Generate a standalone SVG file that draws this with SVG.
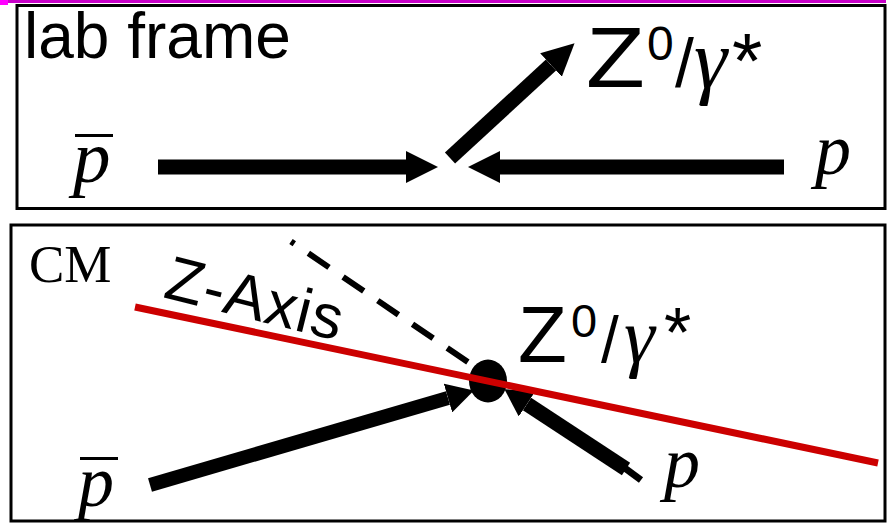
<svg xmlns="http://www.w3.org/2000/svg" width="890" height="523" viewBox="0 0 890 523">
<style>
.frame{fill:#fff;stroke:#000;stroke-width:3}
.sans{font-family:"Liberation Sans",Arial,sans-serif;fill:#000}
.serif{font-family:"Liberation Serif","Times New Roman",serif;fill:#000}
.it{font-style:italic}
.arrow{stroke:#000;stroke-linecap:butt;fill:none}
.bar{stroke:#000;stroke-width:3}
</style>
<defs>
<marker id="headL" markerUnits="userSpaceOnUse" markerWidth="32" markerHeight="32" refX="0" refY="16" orient="auto" viewBox="0 0 32 32">
<path d="M0,0 L32,16 L0,32 Z" fill="#000"/>
</marker>
<marker id="headS" markerUnits="userSpaceOnUse" markerWidth="27" markerHeight="30" refX="0" refY="15" orient="auto" viewBox="0 0 27 30">
<path d="M0,0 L27,15 L0,30 Z" fill="#000"/>
</marker>
</defs>
<rect width="890" height="523" fill="#fff"/>
<rect x="0" y="0" width="886" height="3" fill="#c800c8"/>
<rect x="0" y="0" width="8" height="5" fill="#ff00ff"/>

<g id="lab-frame">
<rect class="frame" x="17" y="5.5" width="868" height="203"/>
<text class="sans" x="24" y="58" font-size="64">lab frame</text>
</g>
<g id="lab-pbar">
<text class="serif it" x="73" y="182" font-size="75">p</text>
<line class="bar" x1="75" y1="135.5" x2="113" y2="135.5"/>
</g>
<g id="lab-p">
<text class="serif it" x="815" y="174" font-size="72">p</text>
</g>
<g id="lab-Z">
<text class="sans" font-size="86" transform="translate(586,87) scale(1.12,1)">Z</text>
<text class="sans" font-size="86"><tspan x="647" y="60" font-size="48">0</tspan><tspan x="675" y="87" font-size="68">/</tspan><tspan class="serif it" x="694" y="88" font-size="84">γ</tspan><tspan x="732" y="88" font-size="78">*</tspan></text>
</g>

<g id="cm-frame">
<rect class="frame" x="11" y="225" width="874" height="296"/>
<text class="serif" x="29" y="282" font-size="53">CM</text>
</g>
<g id="cm-zaxis-label">
<text class="sans" font-size="62" letter-spacing="1" transform="translate(162,297) rotate(14)">Z-Axis</text>
</g>
<g id="cm-pbar">
<text class="serif it" x="78" y="506" font-size="72">p</text>
<line class="bar" x1="80" y1="458.5" x2="118" y2="458.5"/>
</g>
<g id="cm-p">
<text class="serif it" x="664" y="487" font-size="72">p</text>
</g>
<g id="cm-Z">
<text class="sans" font-size="80"><tspan x="518" y="362">Z</tspan><tspan x="571" y="337" font-size="47">0</tspan><tspan x="601" y="362" font-size="64">/</tspan><tspan class="serif it" x="624" y="362" font-size="78">γ</tspan><tspan x="664" y="357" font-size="70">*</tspan></text>
</g>

<g id="connectors">
<line class="arrow" x1="158" y1="167" x2="406" y2="167" stroke-width="15" marker-end="url(#headL)"/>
<line class="arrow" x1="784" y1="167" x2="500" y2="167" stroke-width="15" marker-end="url(#headL)"/>
<line class="arrow" x1="450" y1="158" x2="551" y2="65" stroke-width="15" marker-end="url(#headL)"/>
<line class="arrow" x1="291" y1="241.5" x2="487" y2="375" stroke-width="6" stroke-dasharray="25 17" stroke-dashoffset="21"/>
<line class="arrow" x1="150" y1="485" x2="448" y2="398" stroke-width="14" marker-end="url(#headS)"/>
<line class="arrow" x1="626" y1="469" x2="527" y2="404" stroke-width="15" marker-end="url(#headS)"/>
<line class="arrow" x1="622" y1="466" x2="641" y2="480" stroke-width="7"/>
<ellipse id="vertex" cx="488" cy="381" rx="19" ry="21.5" fill="#000"/>
<line x1="135" y1="307" x2="878" y2="463" stroke="#cc0000" stroke-width="7"/>
</g>
</svg>
